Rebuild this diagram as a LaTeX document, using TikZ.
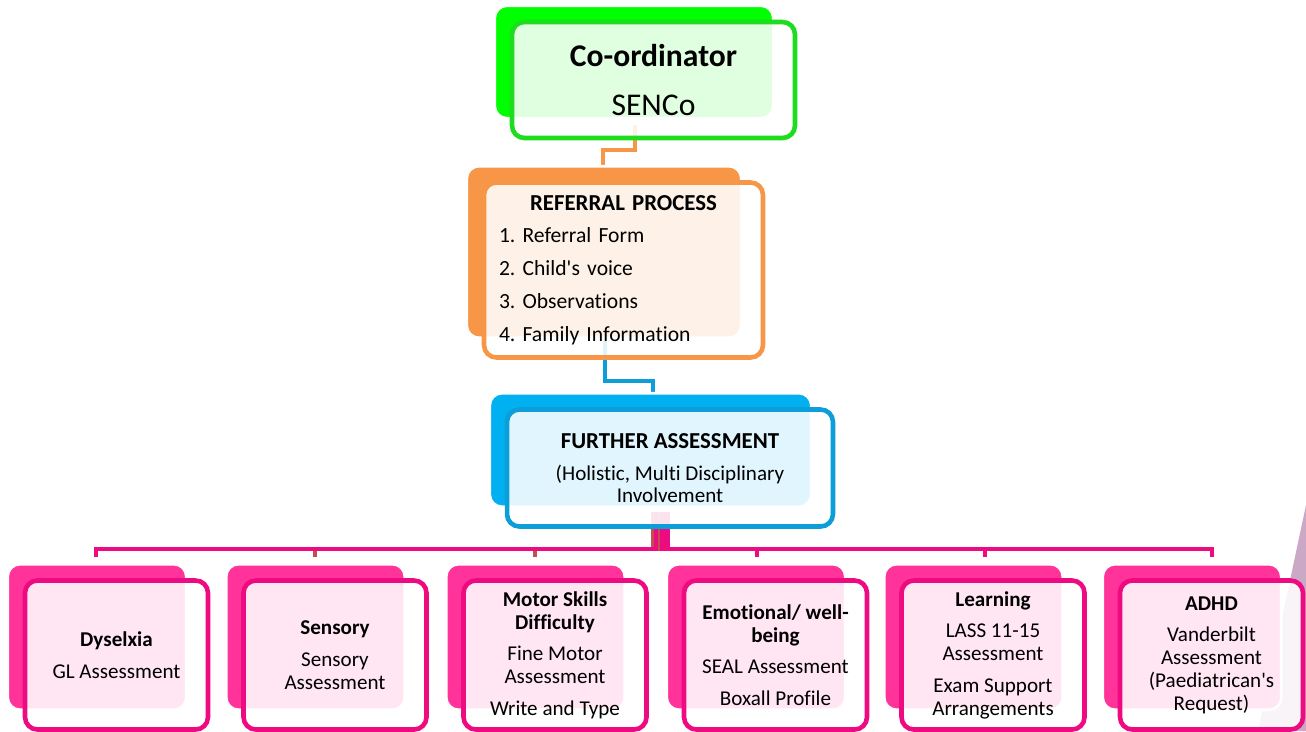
\documentclass[tikz,border=0pt]{standalone}
\usepackage{fontspec}
\setmainfont{Carlito}[Ligatures={TeX,NoCommon}]
\usetikzlibrary{calc,backgrounds}
\frenchspacing

\definecolor{greenback}{HTML}{00FF00}
\definecolor{greenline}{HTML}{1EDC1E}
\definecolor{orangeback}{HTML}{F79646}
\definecolor{blueback}{HTML}{00B0F0}
\definecolor{blueline}{HTML}{0C9ED8}
\definecolor{pinkback}{HTML}{FF3399}
\definecolor{pinkline}{HTML}{EE0A80}
\definecolor{brownline}{HTML}{C0504D}
\definecolor{wedgecol}{HTML}{CBA9C6}

\tikzset{
  frontbox/.style={draw=#1, line width=2.6pt, rounded corners=7pt, fill=white,
    fill opacity=0.88, text opacity=1, align=center, inner sep=0pt},
  backbox/.style={fill=#1, draw=white, line width=1.5pt, rounded corners=7pt},
  link/.style={draw=#1, line width=2.2pt},
  smallbox/.style={frontbox=pinkline, minimum width=3.66cm, minimum height=2.98cm,
    font=\fontsize{12}{13}\selectfont}
}

\begin{document}
\begin{tikzpicture}[x=0.02cm, y=-0.02cm]
\useasboundingbox (0,0) rectangle (1306,731);

% top of the chart
\node[frontbox=greenline, minimum width=5.66cm, minimum height=2.32cm,
  font=\fontsize{18}{22}\selectfont] (coord) at (653.5,80)
  {\textbf{Co-ordinator}\\[6pt]SENCo};

\node[frontbox=orangeback, minimum width=5.58cm, minimum height=3.5cm, text width=4.98cm,
  align=left, font=\fontsize{12.3}{18.7}\selectfont] (referral) at (623.5,270)
  {\makebox[4.98cm]{\fontsize{13}{18.7}\selectfont\textbf{REFERRAL PROCESS}}\\
   1. Referral Form\\
   2. Child\textquotesingle s voice\\
   3. Observations\\
   4. Family Information};

\node[frontbox=blueline, minimum width=6.52cm, minimum height=2.34cm,
  font=\fontsize{12}{12.5}\selectfont] (further) at (670,468)
  {{\fontsize{13}{13}\selectfont\textbf{FURTHER ASSESSMENT}}\\[6.2pt]
   (Holistic, Multi Disciplinary\\Involvement};

% the six areas
\node[smallbox] (b1) at (116.5,655) {\textbf{Dyselxia}\\[5pt]GL Assessment};
\node[smallbox] (b2) at (335,655) {\textbf{Sensory}\\[5pt]Sensory\\Assessment};
\node[smallbox] (b3) at (555,655) {\textbf{Motor Skills}\\\textbf{Difficulty}\\[5pt]Fine Motor\\Assessment\\[5pt]Write and Type};
\node[smallbox] (b4) at (775.5,655) {\textbf{Emotional/ well-}\\\textbf{being}\\[5pt]SEAL Assessment\\[5pt]Boxall Profile};
\node[smallbox] (b5) at (993,655) {\textbf{Learning}\\[5pt]LASS 11-15\\Assessment\\[5pt]Exam Support\\Arrangements};
\node[smallbox] (b6) at (1211.5,655) {\textbf{ADHD}\\[5pt]Vanderbilt\\Assessment\\(Paediatrican\textquotesingle s\\Request)};

\begin{scope}[on background layer]
  \fill[wedgecol] (1306,505) -- (1306,731) -- (1258,731) -- cycle;
  % connectors
  \draw[link=orangeback] ($(coord.south)+(-18.5,-15)$) -- ++(0,25) -| ($(referral.north)+(-20.5,-14)$);
  \draw[link=blueline] ($(referral.south)+(-18.5,-19)$) -- ++(0,40) -| ($(further.north)+(-17,-14)$);
  \foreach \i/\dx/\sx/\col in {2/-17/-20/brownline, 3/-11/-20/brownline,
      1/-14/-20.5/pinkline, 4/-8/-18.5/pinkline, 5/-5/-8/pinkline, 6/-2/0.5/pinkline}
    \draw[link=\col] ($(further.south)+(\dx,-17)$) -- ++(0,37) -| ($(b\i.north)+(\sx,-21)$);
  % coloured boxes behind
  \foreach \n/\col in {coord/greenback, referral/orangeback, further/blueback,
      b1/pinkback, b2/pinkback, b3/pinkback, b4/pinkback, b5/pinkback, b6/pinkback}
    \filldraw[backbox=\col] ($(\n.north west)+(-15,-14)$) rectangle ($(\n.south east)+(-24,-22)$);
\end{scope}
\end{tikzpicture}
\end{document}
